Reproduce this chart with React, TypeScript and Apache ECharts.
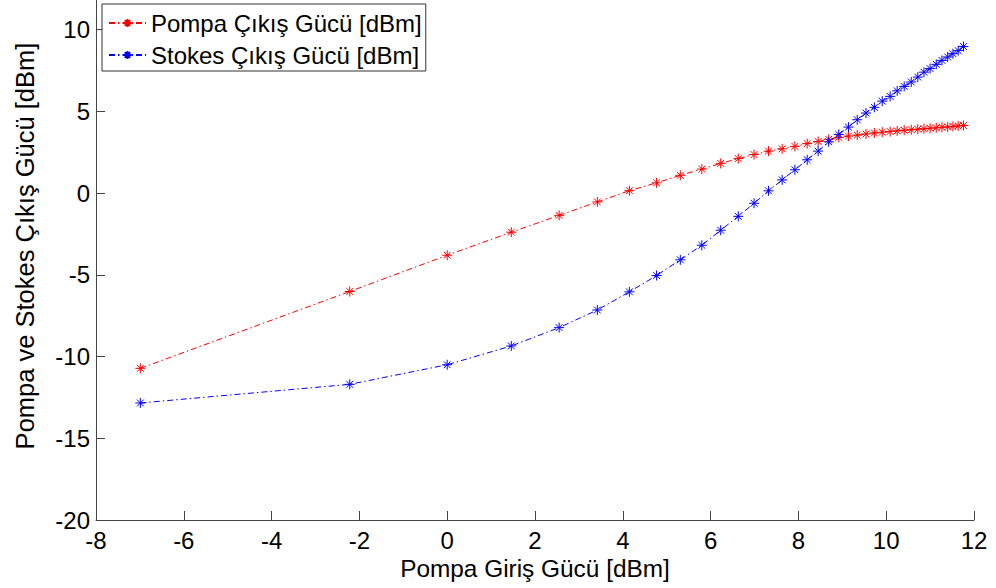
import React, { useEffect, useRef } from "react";
import * as echarts from "echarts";

const xInput: number[] = [-6.99, -2.22, 0, 1.46, 2.55, 3.42, 4.15, 4.77, 5.31, 5.8, 6.23, 6.63, 6.99, 7.32, 7.63, 7.92, 8.2, 8.45, 8.69, 8.92, 9.14, 9.34, 9.54, 9.73, 9.91, 10.09, 10.25, 10.41, 10.57, 10.72, 10.86, 11.0, 11.14, 11.27, 11.4, 11.52, 11.64, 11.76];
const pompaOut: number[] = [-10.72, -6.02, -3.8, -2.39, -1.36, -0.54, 0.15, 0.63, 1.09, 1.47, 1.82, 2.11, 2.36, 2.57, 2.71, 2.86, 3.03, 3.16, 3.29, 3.41, 3.49, 3.55, 3.62, 3.68, 3.73, 3.77, 3.81, 3.85, 3.88, 3.91, 3.94, 3.97, 4.0, 4.03, 4.05, 4.08, 4.11, 4.14];
const stokesOut: number[] = [-12.84, -11.7, -10.5, -9.35, -8.23, -7.15, -6.04, -5.04, -4.08, -3.19, -2.27, -1.42, -0.62, 0.14, 0.81, 1.43, 2.04, 2.57, 3.14, 3.59, 4.04, 4.49, 4.9, 5.25, 5.63, 5.92, 6.26, 6.53, 6.8, 7.1, 7.4, 7.62, 7.88, 8.12, 8.33, 8.53, 8.72, 8.97];
const seriesNames: string[] = ["Pompa Çıkış Gücü [dBm]", "Stokes Çıkış Gücü [dBm]"];
const xAxisName = "Pompa Giriş Gücü [dBm]";
const yAxisName = "Pompa ve Stokes Çıkış Gücü [dBm]";

const FONT = "'Liberation Sans', Arial, sans-serif";
const FS = 24;
const STAR = "path://M5,0L5,10M0,5L10,5M1.6,1.6L8.4,8.4M1.6,8.4L8.4,1.6";

export default function App() {
  const ref = useRef<HTMLDivElement>(null);
  useEffect(() => {
    document.body.style.margin = "0";
    const chart = echarts.init(ref.current!, null, { renderer: "svg" });
    const mk = (name: string, ys: number[], color: string) => ({
      name,
      type: "line",
      data: xInput.map((x, i) => [x, ys[i]]),
      symbol: STAR,
      symbolSize: 10,
      showSymbol: true,
      lineStyle: { color, width: 1, type: [6, 3, 1.5, 3] },
      itemStyle: { color, borderColor: color, borderWidth: 1 },
      emphasis: { disabled: true },
    });
    chart.setOption({
      animation: false,
      backgroundColor: "#ffffff",
      textStyle: { fontFamily: FONT },
      grid: { left: 96, right: 22, top: -3, bottom: 68, containLabel: false, outerBoundsMode: "none" },
      legend: {
        orient: "vertical",
        left: 102,
        top: 4,
        padding: [7, 4, 4, 6],
        itemGap: 8,
        itemWidth: 37,
        itemHeight: 10,
        borderColor: "#333",
        borderWidth: 1,
        backgroundColor: "#fff",
        textStyle: { fontFamily: FONT, fontSize: FS, color: "#000", lineHeight: 24 },
        data: seriesNames,
      },
      graphic: [
        {
          type: "text",
          x: 25,
          y: 246,
          rotation: Math.PI / 2,
          style: {
            text: yAxisName,
            fontFamily: FONT,
            fontSize: 25.5,
            fill: "#000",
            textAlign: "center",
            textVerticalAlign: "middle",
          },
        },
      ],
      xAxis: {
        type: "value",
        min: -8,
        max: 12,
        interval: 2,
        name: xAxisName,
        nameLocation: "middle",
        nameGap: 33,
        nameTextStyle: { fontFamily: FONT, fontSize: 24.4, color: "#000" },
        axisLine: { show: true, onZero: false, lineStyle: { color: "#444", width: 1 } },
        axisTick: { show: true, inside: true, length: 9, lineStyle: { color: "#444" } },
        axisLabel: { fontFamily: FONT, fontSize: FS, color: "#000", margin: 8 },
        splitLine: { show: false },
      },
      yAxis: {
        type: "value",
        min: -20,
        max: 12,
        interval: 5,
        axisLine: { show: true, onZero: false, lineStyle: { color: "#444", width: 1 } },
        axisTick: { show: true, inside: true, length: 9, lineStyle: { color: "#444" } },
        axisLabel: { fontFamily: FONT, fontSize: FS, color: "#000", margin: 6, showMaxLabel: false },
        splitLine: { show: false },
      },
      series: [mk(seriesNames[0], pompaOut, "#ff0000"), mk(seriesNames[1], stokesOut, "#0000ff")],
    });
    return () => chart.dispose();
  }, []);
  return <div ref={ref} style={{ width: 996, height: 588 }} />;
}
